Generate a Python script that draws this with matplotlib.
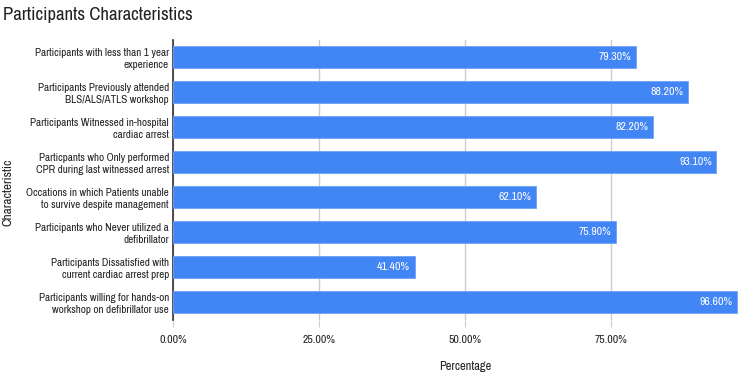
import matplotlib
matplotlib.use('Agg')
import matplotlib.pyplot as plt
from matplotlib.ticker import FuncFormatter

plt.rcParams['font.family'] = ['Archivo Narrow', 'Roboto Condensed', 'DejaVu Sans']

categories = [
    "Participants with less than 1 year\nexperience",
    "Participants Previously attended\nBLS/ALS/ATLS workshop",
    "Participants Witnessed in-hospital\ncardiac arrest",
    "Particpants who Only performed\nCPR during last witnessed arrest",
    "Occations in which Patients unable\nto survive despite management",
    "Participants who Never utilized a\ndefibrillator",
    "Participants Dissatisfied with\ncurrent cardiac arrest prep",
    "Participants willing for hands-on\nworkshop on defibrillator use",
]
values = [79.3, 88.2, 82.2, 93.1, 62.1, 75.9, 41.4, 96.6]
xticks = [0, 25, 50, 75, 100]

fig = plt.figure(figsize=(7.56, 3.76), dpi=100)
ax = fig.add_axes([0.229, 0.149, 0.772, 0.745])

pos = list(range(len(categories)))
bars = ax.barh(pos, values, height=0.63, color='#4285F4', edgecolor='#6fa1f6', linewidth=0.6, zorder=3)
ax.set_ylim(len(categories) - 0.5, -0.5)
ax.set_xlim(0, 100)

for b, v in zip(bars, values):
    ax.text(v - 0.8, b.get_y() + b.get_height() / 2, f"{v:.2f}%", color='white',
            ha='right', va='center', fontsize=8.5, zorder=4)

ax.set_yticks(pos)
ax.set_yticklabels(categories, fontsize=8, color='#222222', linespacing=1.15)
ax.set_xticks(xticks)
ax.xaxis.set_major_formatter(FuncFormatter(lambda x, p: f"{x:.2f}%" if x < 100 else ""))
ax.tick_params(axis='x', length=5, color='#cccccc', labelsize=8.5, labelcolor='#222222', pad=6)
ax.tick_params(axis='y', length=0, pad=3)
ax.grid(axis='x', color='#cccccc', linewidth=1, zorder=0)

for s in ['top', 'right', 'bottom']:
    ax.spines[s].set_visible(False)
ax.spines['left'].set_color('#333333')
ax.spines['left'].set_linewidth(1.2)

ax.set_xlabel("Percentage", fontsize=9, color='#222222')
ax.xaxis.set_label_coords(0.5, -0.146)
ax.set_ylabel("Characteristic", fontsize=9.5, color='#222222')
ax.yaxis.set_label_coords(-0.274, 0.457)
fig.text(0.004, 0.96, "Participants Characteristics", fontsize=13.5, color='#222222', ha='left', va='center')

fig.savefig('out.png', dpi=100)
